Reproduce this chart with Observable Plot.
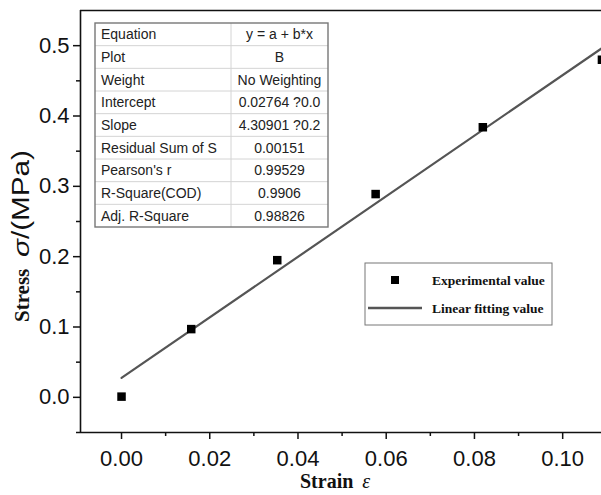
<!DOCTYPE html>
<html><head><meta charset="utf-8">
<script src="https://cdn.jsdelivr.net/npm/d3@7"></script>
<script src="https://cdn.jsdelivr.net/npm/@observablehq/plot@0.6"></script>
<style>body{margin:0;background:#fff} #chart{position:relative;width:601px;height:495px;overflow:hidden}</style>
</head><body><div id="chart"></div>
<script>
const strain = [0, 0.0158, 0.0353, 0.0576, 0.0819, 0.1089];
const stress = [0.001, 0.097, 0.195, 0.289, 0.384, 0.480];
const fitStrain = [0, 0.1088];
const fitStress = [0.0276, 0.496];
const xMajorTicks = [0, 0.02, 0.04, 0.06, 0.08, 0.10];
const xMinorTicks = [0.01, 0.03, 0.05, 0.07, 0.09];
const yMajorTicks = [0, 0.1, 0.2, 0.3, 0.4, 0.5];
const yMinorTicks = [-0.05, 0.05, 0.15, 0.25, 0.35, 0.45];
const tableLabels = ["Equation","Plot","Weight","Intercept","Slope","Residual Sum of S","Pearson's r","R-Square(COD)","Adj. R-Square"];
const tableValues = ["y = a + b*x","B","No Weighting","0.02764 ?0.0","4.30901 ?0.2","0.00151","0.99529","0.9906","0.98826"];
const legendLabels = ["Experimental value","Linear fitting value"];
const xTitle = "Strain";
const xSymbol = "ε";
const yTitle = "Stress";
const yUnit = ["σ", "/(MPa)"];
const xDomain = [-0.0093, 0.1088];
const yDomain = [-0.05, 0.55];

const pts = strain.map((x, i) => ({x, y: stress[i]}));
const fit = fitStrain.map((x, i) => ({x, y: fitStress[i]}));

const plot = Plot.plot({
  width: 601, height: 495,
  marginLeft: 80, marginRight: 0, marginTop: 10, marginBottom: 63,
  style: {fontFamily: "'Liberation Sans', Arial, sans-serif", fontSize: "22px", color: "#111", background: "#fff"},
  x: {domain: xDomain, label: null},
  y: {domain: yDomain, label: null},
  marks: [
    Plot.axisX(xMinorTicks, {tickSize: 4, tickFormat: () => "", strokeWidth: 1.5, label: null}),
    Plot.axisX(xMajorTicks, {tickSize: 7, tickPadding: 11, tickFormat: d => d.toFixed(2), strokeWidth: 1.5, label: null}),
    Plot.axisY(yMinorTicks, {tickSize: 4, tickFormat: () => "", strokeWidth: 1.5, label: null}),
    Plot.axisY(yMajorTicks, {tickSize: 7, tickPadding: 4, tickFormat: d => d.toFixed(1), strokeWidth: 1.5, label: null}),
    Plot.ruleX([xDomain[0]], {stroke: "#111", strokeWidth: 1.6}),
    Plot.ruleY([yDomain[0]], {stroke: "#111", strokeWidth: 1.6}),
    Plot.ruleY([yDomain[1]], {stroke: "#111", strokeWidth: 1.6}),
    Plot.line(fit, {x: "x", y: "y", stroke: "#555", strokeWidth: 2.2}),
    Plot.dot(pts, {x: "x", y: "y", symbol: "square", r: 4.8, fill: "#000", stroke: null})
  ]
});
document.getElementById("chart").appendChild(plot);

const svg = d3.select(plot);

// Y title
svg.append("text")
  .attr("transform", "translate(29,322) rotate(-90)")
  .attr("text-anchor", "start")
  .attr("font-family", "'Liberation Serif', 'Times New Roman', serif")
  .attr("font-weight", "bold").attr("font-size", 21).attr("fill", "#111")
  .text(yTitle);
const yu = svg.append("text")
  .attr("transform", "translate(29,257) rotate(-90)")
  .attr("text-anchor", "start")
  .attr("font-family", "'Liberation Sans', Arial, sans-serif")
  .attr("font-size", 23).attr("fill", "#111")
  .attr("textLength", 107).attr("lengthAdjust", "spacingAndGlyphs");
yu.append("tspan").attr("font-style", "italic").text(yUnit[0]);
yu.append("tspan").text(yUnit[1]);

// X title
const xt = svg.append("text")
  .attr("x", 300).attr("y", 488)
  .attr("text-anchor", "start")
  .attr("font-family", "'Liberation Serif', 'Times New Roman', serif")
  .attr("font-size", 20).attr("fill", "#111");
xt.append("tspan").attr("font-weight", "bold").text(xTitle);
xt.append("tspan").attr("dx", 9).attr("font-style", "italic").text(xSymbol);

// Fit-result table
const tX = 95, tY = 23, tW = 233, tH = 204, colX = 231;
const rowH = tH / tableLabels.length;
const tg = svg.append("g").attr("text-anchor", "start");
tg.append("rect").attr("x", tX).attr("y", tY).attr("width", tW).attr("height", tH)
  .attr("fill", "#fff").attr("stroke", "none");
tableLabels.forEach((lab, i) => {
  if (i > 0) tg.append("line").attr("x1", tX).attr("x2", tX + tW)
    .attr("y1", tY + i * rowH).attr("y2", tY + i * rowH)
    .attr("stroke", "#d4d4d4").attr("stroke-width", 1);
});
tg.append("line").attr("x1", colX).attr("x2", colX).attr("y1", tY).attr("y2", tY + tH)
  .attr("stroke", "#d4d4d4").attr("stroke-width", 1);
tg.append("rect").attr("x", tX).attr("y", tY).attr("width", tW).attr("height", tH)
  .attr("fill", "none").attr("stroke", "#777").attr("stroke-width", 1.4);
tableLabels.forEach((lab, i) => {
  const cy = tY + (i + 0.5) * rowH;
  tg.append("text").attr("x", tX + 6).attr("y", cy).attr("dy", "0.36em")
    .attr("text-anchor", "start")
    .attr("font-family", "'Liberation Sans', Arial, sans-serif").attr("font-size", 14)
    .attr("fill", "#222").text(lab);
  tg.append("text").attr("x", (colX + tX + tW) / 2).attr("y", cy).attr("dy", "0.36em")
    .attr("text-anchor", "middle")
    .attr("font-family", "'Liberation Sans', Arial, sans-serif").attr("font-size", 14)
    .attr("fill", "#222").text(tableValues[i]);
});

// Legend
const lg = svg.append("g");
lg.append("rect").attr("x", 365).attr("y", 263).attr("width", 187).attr("height", 62)
  .attr("fill", "#fff").attr("stroke", "#777").attr("stroke-width", 1);
lg.append("rect").attr("x", 391).attr("y", 276).attr("width", 8).attr("height", 8).attr("fill", "#000");
lg.append("line").attr("x1", 368).attr("x2", 422).attr("y1", 308).attr("y2", 308)
  .attr("stroke", "#555").attr("stroke-width", 2.4);
legendLabels.forEach((t, i) => {
  lg.append("text").attr("x", 432).attr("y", i ? 308 : 280).attr("dy", "0.35em")
    .attr("text-anchor", "start")
    .attr("font-family", "'Liberation Serif', 'Times New Roman', serif")
    .attr("font-weight", "bold").attr("font-size", 13.5).attr("fill", "#111").text(t);
});
</script>
</body></html>
